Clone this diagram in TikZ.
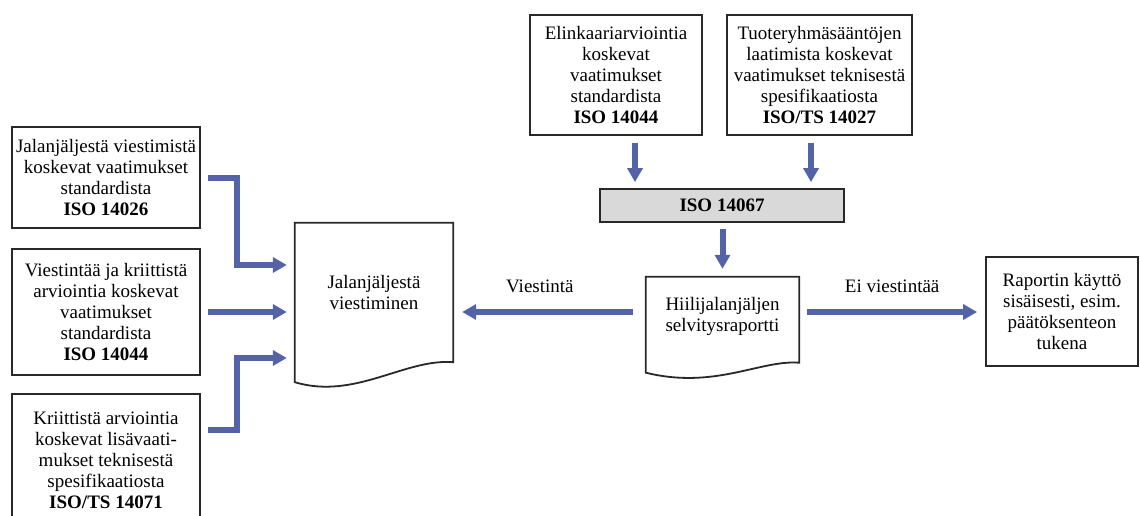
\documentclass[tikz,border=0pt]{standalone}
\usepackage{fontspec}
\setmainfont{Liberation Serif}
\usetikzlibrary{arrows.meta,calc}
\definecolor{arrowblue}{RGB}{84,99,168}
\definecolor{isogray}{RGB}{217,217,217}
\definecolor{edgecol}{RGB}{40,40,40}
\begin{document}
\begin{tikzpicture}[x=1pt,y=-1pt,
  txt/.style={font=\fontsize{19}{21}\selectfont, align=center, inner sep=0pt},
  box/.style={txt, draw=edgecol, line width=1.8pt, rectangle},
  docline/.style={draw=edgecol, line width=1.8pt, line join=miter},
  arr/.style={draw=arrowblue, line width=6pt, line join=miter, -{Triangle[length=14pt,width=15pt]}},
  lbl/.style={font=\fontsize{19}{21}\selectfont, inner sep=0pt}]
\useasboundingbox (0,0) rectangle (1140,516);
\clip (0,0) rectangle (1140,516);

% left boxes
\node[box, minimum width=188pt, minimum height=101pt] (b1) at (106,177.5)
  {Jalanjäljestä viestimistä\\koskevat vaatimukset\\standardista\\\textbf{ISO 14026}};
\node[box, minimum width=188pt, minimum height=126pt] (b2) at (106,312)
  {Viestintää ja kriittistä\\arviointia koskevat\\vaatimukset\\standardista\\\textbf{ISO 14044}};
\node[box, minimum width=188pt, minimum height=132pt] (b3) at (106,460)
  {Kriittistä arviointia\\koskevat lisävaati-\\mukset teknisestä\\spesifikaatiosta\\\textbf{ISO/TS 14071}};

% top boxes
\node[box, minimum width=172pt, minimum height=120pt] (t1) at (616,75)
  {Elinkaariarviointia\\koskevat\\vaatimukset\\standardista\\\textbf{ISO 14044}};
\node[box, minimum width=185pt, minimum height=120pt] (t2) at (819.5,75)
  {Tuoteryhmäsääntöjen\\laatimista koskevat\\vaatimukset teknisestä\\spesifikaatiosta\\\textbf{ISO/TS 14027}};
\node[box, fill=isogray, minimum width=244pt, minimum height=33pt] (iso) at (722,205.5)
  {\textbf{ISO 14067}};

% right box
\node[box, minimum width=152pt, minimum height=109pt] (rap) at (1062,311.5)
  {Raportin käyttö\\sisäisesti, esim.\\päätöksenteon\\tukena};

% document shapes
\node[txt, minimum width=158pt, minimum height=139pt] (doc1) at (374,292.5)
  {Jalanjäljestä\\viestiminen};
\draw[docline] (doc1.north west) -- (doc1.north east) -- (doc1.south east)
  .. controls +(-48,-4) and +(60,18) .. ($(doc1.south west)+(0,20)$) -- cycle;

\node[txt, minimum width=153pt, minimum height=79pt] (doc2) at (722.5,316.5)
  {Hiilijalanjäljen\\selvitysraportti};
\draw[docline] (doc2.north west) -- (doc2.north east) -- ($(doc2.south east)+(0,6.5)$)
  .. controls +(-39,-3) and +(69,17) .. ($(doc2.south west)+(0,16.5)$) -- cycle;

% helper coordinates
\coordinate (cx) at (237,0);
\coordinate (p1) at (0,265);
\coordinate (q3) at (0,430);
\coordinate (p3) at (0,358);
\coordinate (x1) at (635,0);
\coordinate (x2) at (811,0);
\coordinate (m) at (0,312);

% connectors from the left boxes
\draw[arr, shorten <=7pt, shorten >=8pt] (b1.east) -| (cx |- p1) -- (doc1.west |- p1);
\draw[arr, shorten <=7pt, shorten >=8pt] (b2.east) -- (b2.east -| doc1.west);
\draw[arr, shorten <=7pt, shorten >=8pt] (b3.east |- q3) -| (cx |- p3) -- (doc1.west |- p3);

% connectors from the top
\draw[arr, shorten <=7pt, shorten >=6pt] (t1.south -| x1) -- (iso.north -| x1);
\draw[arr, shorten <=7pt, shorten >=6pt] (t2.south -| x2) -- (iso.north -| x2);
\draw[arr, shorten <=6pt, shorten >=8pt] (iso.south -| doc2.north) -- (doc2.north);

% horizontal connectors
\draw[arr, shorten <=13pt, shorten >=9pt] (doc2.west |- m) --
  node[lbl, pos=0.55, above=16pt] {Viestintä} (doc1.east |- m);
\draw[arr, shorten <=8pt, shorten >=8pt] (doc2.east |- m) --
  node[lbl, midway, above=16pt] {Ei viestintää} (rap.west |- m);
\end{tikzpicture}
\end{document}
